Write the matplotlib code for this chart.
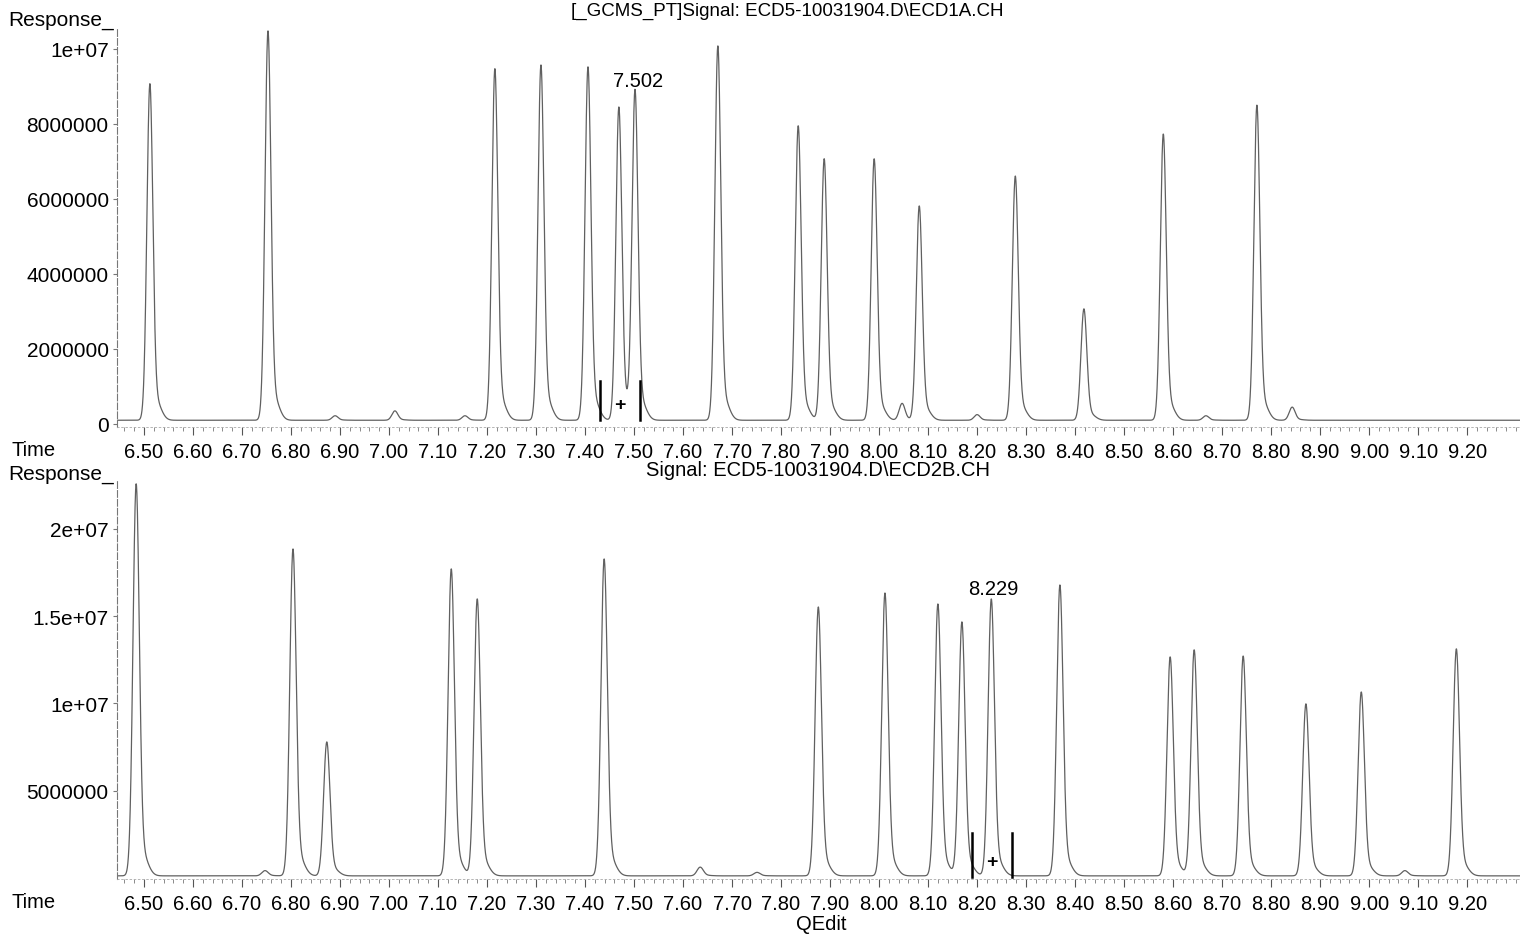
import numpy as np
import matplotlib
matplotlib.use('Agg')
import matplotlib.pyplot as plt
from matplotlib.ticker import FixedLocator, MultipleLocator

# peak list (retention time in min, apex response)
top_rt = [6.512, 6.753, 6.890, 7.012, 7.155, 7.216, 7.310, 7.406, 7.469, 7.502,
          7.671, 7.835, 7.888, 7.990, 8.047, 8.082, 8.200, 8.278, 8.418, 8.580,
          8.667, 8.771, 8.843]
top_h = [9.07e6, 1.048e7, 0.22e6, 0.35e6, 0.22e6, 9.47e6, 9.57e6, 9.52e6, 8.45e6, 8.85e6,
         1.008e7, 7.95e6, 7.07e6, 7.07e6, 0.55e6, 5.81e6, 0.25e6, 6.61e6, 3.07e6, 7.73e6,
         0.22e6, 8.5e6, 0.45e6]
top_base = 0.10e6

bot_rt = [6.484, 6.747, 6.804, 6.873, 7.127, 7.180, 7.439, 7.635, 7.751, 7.876,
          8.012, 8.120, 8.169, 8.229, 8.369, 8.594, 8.643, 8.743, 8.871, 8.984,
          9.073, 9.178]
bot_h = [2.257e7, 0.42e6, 1.884e7, 7.79e6, 1.77e7, 1.598e7, 1.827e7, 0.62e6, 0.32e6, 1.552e7,
         1.632e7, 1.569e7, 1.466e7, 1.598e7, 1.678e7, 1.266e7, 1.306e7, 1.271e7, 9.97e6, 1.065e7,
         0.42e6, 1.312e7]
bot_base = 0.12e6

top_ticks = [0, 2e6, 4e6, 6e6, 8e6, 1e7]
top_ticklabels = ['0', '2000000', '4000000', '6000000', '8000000', '1e+07']
bot_ticks = [5e6, 1e7, 1.5e7, 2e7]
bot_ticklabels = ['5000000', '1e+07', '1.5e+07', '2e+07']
time_ticks = [6.5 + 0.1 * i for i in range(28)]

# integration marks
top_marks = [7.431, 7.512]
bot_marks = [8.190, 8.271]

plt.rcParams['font.family'] = ['Liberation Sans', 'DejaVu Sans']

t = np.linspace(6.40, 9.35, 8000)


def trace(rts, hs, base, sig):
    y = np.full_like(t, base)
    tail = 0.06 * np.exp(-0.5 * (0.012 / (sig * 1.8)) ** 2)
    for r, h in zip(rts, hs):
        a = (h - base) / (1 + tail)
        y += a * np.exp(-0.5 * ((t - r) / sig) ** 2)
        # slight tailing
        y += 0.06 * a * np.exp(-0.5 * ((t - r - 0.012) / (sig * 1.8)) ** 2)
    return y


fig = plt.figure(figsize=(15.32, 9.37), dpi=100)
ax1 = fig.add_axes([117 / 1532, 1 - 428 / 937, 1403 / 1532, 398 / 937])
ax2 = fig.add_axes([117 / 1532, 1 - 880 / 937, 1403 / 1532, 400 / 937])

ax1.plot(t, trace(top_rt, top_h, top_base, 0.006), color='#606060', lw=0.9)
ax2.plot(t, trace(bot_rt, bot_h, bot_base, 0.0064), color='#606060', lw=0.9)

ax1.set_ylim(-0.08e6, 1.053e7)
ax2.set_ylim(-0.06e6, 2.285e7)

for ax, ticks, labels in [(ax1, top_ticks, top_ticklabels), (ax2, bot_ticks, bot_ticklabels)]:
    ax.set_xlim(6.445, 9.308)
    for s in ['top', 'right']:
        ax.spines[s].set_visible(False)
    ax.spines['left'].set_color('#777777')
    ax.spines['left'].set_linewidth(0.8)
    ax.spines['left'].set_linestyle((0, (6, 2)))
    ax.spines['bottom'].set_color('#aaaaaa')
    ax.spines['bottom'].set_linewidth(0.6)
    ax.spines['bottom'].set_linestyle((0, (2, 3)))
    ax.set_yticks(ticks)
    ax.set_yticklabels(labels, fontsize=15)
    ax.tick_params(axis='y', length=3, width=0.8, color='#777777', pad=3)
    ax.xaxis.set_major_locator(FixedLocator(time_ticks))
    ax.xaxis.set_minor_locator(MultipleLocator(0.02))
    ax.set_xticklabels(['%.2f' % v for v in time_ticks], fontsize=14.5)
    ax.tick_params(axis='x', which='major', length=6, width=0.8, color='#555555', pad=5)
    ax.tick_params(axis='x', which='minor', length=3, width=0.6, color='#777777')

# integration markers and labels
for m in top_marks:
    ax1.plot([m, m], [0.1e6, 1.15e6], color='black', lw=1.8)
ax1.text(7.472, 0.53e6, '+', ha='center', va='center', fontsize=14, fontweight='bold')
ax1.text(7.508, 9.15e6, '7.502', ha='center', va='center', fontsize=14.5)
for m in bot_marks:
    ax2.plot([m, m], [0.05e6, 2.6e6], color='black', lw=1.8)
ax2.text(8.230, 0.97e6, '+', ha='center', va='center', fontsize=14, fontweight='bold')
ax2.text(8.233, 1.655e7, '8.229', ha='center', va='center', fontsize=14.5)

fig.text(8 / 1532, 1 - 20 / 937, 'Response_', fontsize=15, va='center', ha='left')
fig.text(8 / 1532, 1 - 475 / 937, 'Response_', fontsize=15, va='center', ha='left')
fig.text(12 / 1532, 1 - 451 / 937, 'Time', fontsize=14.5, va='center', ha='left')
fig.text(12 / 1532, 1 - 903 / 937, 'Time', fontsize=14.5, va='center', ha='left')
fig.text(787 / 1532, 1 - 11 / 937, '[_GCMS_PT]Signal: ECD5-10031904.D\\ECD1A.CH',
         fontsize=13.5, ha='center', va='center')
fig.text(818 / 1532, 1 - 471 / 937, 'Signal: ECD5-10031904.D\\ECD2B.CH',
         fontsize=14.5, ha='center', va='center')
fig.text(821 / 1532, 1 - 925 / 937, 'QEdit', fontsize=14.5, ha='center', va='center')

fig.savefig('out.png', dpi=100)
